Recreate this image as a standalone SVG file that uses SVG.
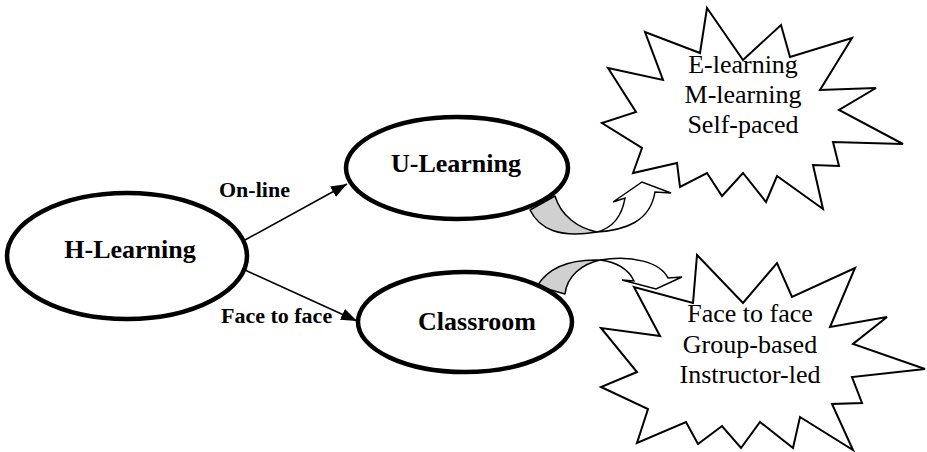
<svg xmlns="http://www.w3.org/2000/svg" width="927" height="452" viewBox="0 0 927 452">
  <style>
    text { font-family: 'Liberation Serif', 'DejaVu Serif', serif; fill: #000000; }
    .node { fill: #ffffff; stroke: #000000; stroke-width: 4.5; }
    .node-label { font-weight: bold; font-size: 26px; text-anchor: middle; }
    .edge-label { font-weight: bold; font-size: 22px; }
    .burst { fill: #ffffff; stroke: #000000; stroke-width: 2; stroke-linejoin: miter; }
    .burst-text { font-size: 26px; text-anchor: middle; }
    .link { stroke: #000000; stroke-width: 1.6; fill: none; }
    .bend-back { fill: #d0d0d0; stroke: #000000; stroke-width: 1.5; stroke-linejoin: round; }
    .bend-front { fill: #ffffff; stroke: #000000; stroke-width: 1.5; stroke-linejoin: miter; }
  </style>
  <defs>
    <marker id="arrowhead" markerUnits="userSpaceOnUse" markerWidth="18" markerHeight="14" refX="16" refY="6" orient="auto">
      <path d="M0,0 L16,6 L0,12 Z" fill="#000000"/>
    </marker>
  </defs>

  <rect x="0" y="0" width="927" height="452" fill="#ffffff"/>

  <!-- connectors -->
  <g id="connectors">
    <line class="link" x1="245" y1="240" x2="347" y2="184" marker-end="url(#arrowhead)"/>
    <line class="link" x1="245" y1="270" x2="357" y2="321" marker-end="url(#arrowhead)"/>
    <text class="edge-label" x="219" y="197" font-family="Liberation Serif, serif">On-line</text>
    <text class="edge-label" x="221" y="323" font-family="Liberation Serif, serif">Face to face</text>

    <!-- curved arrow from U-Learning up to the first burst -->
    <g id="bend-upper">
      <path class="bend-back" d="M530,210 C540,230 560,238 597,232 C578,228 561,216 555,196 Z"/>
      <path class="bend-front" d="M597,232 C625,230 650,222 655,192 L671,193 L642,182 L613,202 L625,198 C622,216 612,228 597,232 Z"/>
    </g>

    <!-- curved arrow from Classroom over to the second burst -->
    <g id="bend-lower">
      <path class="bend-back" d="M537,286 C548,268 570,259 600,260 C582,264 567,276 565,294 Z"/>
      <path class="bend-front" d="M600,260 C632,255 660,262 668,278 L682,277 L656,289 L622,280 L634,281 C628,268 616,262 600,260 Z"/>
    </g>
  </g>

  <!-- nodes -->
  <g id="node-h-learning">
    <ellipse class="node" cx="127" cy="256" rx="120" ry="63"/>
    <text class="node-label" x="130" y="258" font-family="Liberation Serif, serif">H-Learning</text>
  </g>

  <g id="node-u-learning">
    <ellipse class="node" cx="457" cy="168" rx="111" ry="51"/>
    <text class="node-label" x="456" y="172" font-family="Liberation Serif, serif">U-Learning</text>
  </g>

  <g id="node-classroom">
    <ellipse class="node" cx="465" cy="322" rx="107" ry="50"/>
    <text class="node-label" x="477" y="330" font-family="Liberation Serif, serif">Classroom</text>
  </g>

  <g id="burst-online">
    <polygon class="burst" points="707,8 743,60 781,25 790,57 852,38 820,90 876,88 839,110 903,144 833,142 839,166 813,165 823,209 777,176 766,202 743,173 722,196 707,173 680,187 677,163 633,173 642,148 602,123 636,112 608,68 663,80 645,32 700,53"/>
    <text class="burst-text" x="743" y="73" font-family="Liberation Serif, serif">E-learning</text>
    <text class="burst-text" x="743" y="103" font-family="Liberation Serif, serif">M-learning</text>
    <text class="burst-text" x="743" y="133" font-family="Liberation Serif, serif">Self-paced</text>
  </g>

  <g id="burst-classroom">
    <polygon class="burst" points="697,255 743,303 777,263 792,297 855,268 830,327 887,317 853,344 925,369 852,377 862,403 832,404 853,450 800,417 793,448 760,422 741,448 722,426 698,444 686,422 637,443 648,409 601,387 637,372 601,328 660,336 634,287 693,303"/>
    <text class="burst-text" x="750" y="322" font-family="Liberation Serif, serif">Face to face</text>
    <text class="burst-text" x="750" y="353" font-family="Liberation Serif, serif">Group-based</text>
    <text class="burst-text" x="750" y="383" font-family="Liberation Serif, serif">Instructor-led</text>
  </g>
</svg>
